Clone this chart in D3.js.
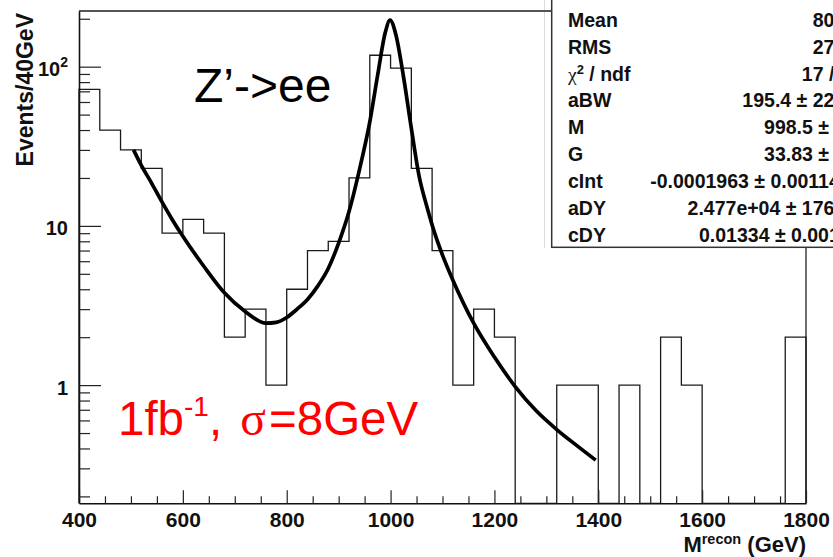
<!DOCTYPE html>
<html><head><meta charset="utf-8">
<script src="https://cdn.jsdelivr.net/npm/d3@7"></script>
<style>
body{margin:0;background:#fff}
svg{display:block}
text{font-family:"Liberation Sans",Arial,Helvetica,sans-serif}
</style>
</head><body>
<svg id="chart" width="833" height="557"></svg>
<script>
// ---------------- data ----------------
const binLow = [400,440,480,520,560,600,640,680,720,760,800,840,880,920,960,1000,1040,1080,1120,1160,
                1200,1240,1280,1320,1360,1400,1440,1480,1520,1560,1600,1640,1680,1720,1760];
const binWidth = 40;
const binCounts = [72,40,30,23,9,11,9,2,3,1,4,7,8,20,118,98,23,7,1,3,
                   2,0,0,1,1,0,1,0,2,1,0,0,0,0,2];

const fitMass  = [505,520,540,560,580,600,640,680,720,760,780,800,820,840,860,880,900,920,940,960,975,990,999,
                  1010,1025,1040,1055,1070,1085,1100,1120,1160,1200,1240,1280,1320,1360,1395];
const fitValue = [30,24,18.5,14.1,10.9,8.6,5.6,3.8,2.9,2.45,2.48,2.66,3.0,3.45,4.2,5.4,7.8,12.3,22.5,45,88,165,196,
                  160,86,41,20.5,13.2,9.0,6.55,4.56,2.45,1.50,0.979,0.692,0.526,0.414,0.338];

const xMajorTicks = [400,600,800,1000,1200,1400,1600,1800];
const xMinorTicks = [450,500,550,650,700,750,850,900,950,1050,1100,1150,1250,1300,1350,1450,1500,1550,1650,1700,1750];
const yMajorTicks = [1,10,100];
const yTickLabels = [["1",""],["10",""],["10","2"]];
const yMinorTicks = [0.2,0.3,0.4,0.5,0.6,0.7,0.8,0.9,2,3,4,5,6,7,8,9,20,30,40,50,60,70,80,90,200];

const statNames  = [["Mean",""],["RMS",""],["χ","2"," / ndf"],["aBW",""],["M",""],["G",""],["cInt",""],["aDY",""],["cDY",""]];
const statValues = ["805.2","272.4","17 / 19","195.4 ± 22.59","998.5 ± 3.2","33.83 ± 4.8",
                    "-0.0001963 ± 0.0011462","2.477e+04 ± 1768.5","0.01334 ± 0.00123"];

const xDomain = [400,1800];
const yDomain = [0.181,223.7];

// ---------------- layout ----------------
const L = 79, R = 806, T = 11, B = 503.3;
const svg = d3.select("#chart");
svg.append("rect").attr("width",833).attr("height",557).attr("fill","#fff");

const x = d3.scaleLinear().domain(xDomain).range([L,R]);
const y = d3.scaleLog().domain(yDomain).range([B,T]);
const yv = v => v > 0 ? y(v) : B;

// faint pad line
svg.append("line").attr("x1",544.5).attr("x2",544.5).attr("y1",0).attr("y2",248)
  .attr("stroke","#dcdcdc").attr("stroke-width",1);

// frame top/right
svg.append("line").attr("x1",L).attr("x2",R).attr("y1",T).attr("y2",T).attr("stroke","#555").attr("stroke-width",2);
svg.append("line").attr("x1",R).attr("x2",R).attr("y1",T).attr("y2",B).attr("stroke","#333").attr("stroke-width",1.4);

// histogram outline
const histPts = [];
histPts.push([x(binLow[0]), B]);
binLow.forEach((lo,i)=>{
  histPts.push([x(lo), yv(binCounts[i])]);
  histPts.push([x(lo+binWidth), yv(binCounts[i])]);
});
histPts.push([x(binLow[binLow.length-1]+binWidth), B]);
svg.append("path").attr("d", d3.line()(histPts))
  .attr("fill","none").attr("stroke","#1a1a1a").attr("stroke-width",1.3);

// fit curve
const fitLine = d3.line().x(d=>x(d[0])).y(d=>y(d[1])).curve(d3.curveMonotoneX);
svg.append("path").attr("d", fitLine(fitMass.map((m,i)=>[m,fitValue[i]])))
  .attr("fill","none").attr("stroke","#000").attr("stroke-width",3.7).attr("stroke-linejoin","round");

// x axis
const gx = svg.append("g").attr("transform",`translate(0,${B})`);
gx.call(d3.axisBottom(x).tickValues(xMajorTicks).tickSize(-13).tickSizeOuter(0).tickPadding(9).tickFormat(d3.format("d")));
gx.append("g").call(d3.axisBottom(x).tickValues(xMinorTicks).tickSize(-7).tickSizeOuter(0).tickFormat(""))
  .select(".domain").remove();
gx.selectAll("path.domain").attr("stroke","#111").attr("stroke-width",1.6);
gx.selectAll("line").attr("stroke","#222").attr("stroke-width",1.2);
gx.selectAll("text").attr("font-size",21).attr("font-weight","bold").attr("fill","#111");

// y axis
const gy = svg.append("g").attr("transform",`translate(${L},0)`);
gy.call(d3.axisLeft(y).tickValues(yMajorTicks).tickSize(-22).tickSizeOuter(0).tickPadding(11).tickFormat(""));
gy.append("g").call(d3.axisLeft(y).tickValues(yMinorTicks).tickSize(-11).tickSizeOuter(0).tickFormat(""))
  .select(".domain").remove();
gy.selectAll("path.domain").attr("stroke","#111").attr("stroke-width",1.6);
gy.selectAll("line").attr("stroke","#222").attr("stroke-width",1.2);
gy.selectAll(".tick text").each(function(d){
  const i = yMajorTicks.indexOf(d);
  if (i < 0) return;
  const t = d3.select(this).attr("font-size",20).attr("font-weight","bold").attr("fill","#111")
    .attr("dy",null).attr("y",9);
  t.append("tspan").text(yTickLabels[i][0]);
  if (yTickLabels[i][1]) t.append("tspan").attr("font-size",14).attr("dy",-9).text(yTickLabels[i][1]);
});

// axis titles
svg.append("text").attr("transform","translate(33,13) rotate(-90)").attr("text-anchor","end")
  .attr("font-size",23).attr("font-weight","bold").attr("fill","#111").text("Events/40GeV");
const xt = svg.append("text").attr("x",806).attr("y",552).attr("text-anchor","end")
  .attr("font-size",22).attr("font-weight","bold").attr("fill","#111");
xt.append("tspan").text("M");
xt.append("tspan").attr("font-size",14.5).attr("dy",-8).text("recon");
xt.append("tspan").attr("dy",8).text(" (GeV)");

// annotations
svg.append("text").attr("x",194).attr("y",101.7).attr("font-size",48).attr("fill","#000").text("Z’->ee");
const lum = svg.append("text").attr("x",118).attr("y",435).attr("font-size",47.5).attr("fill","#ff0000");
lum.append("tspan").text("1fb");
lum.append("tspan").attr("font-size",28).attr("dy",-19).text("-1");
lum.append("tspan").attr("dy",19).text(", ");
lum.append("tspan").attr("dx",5).attr("font-family","'Liberation Serif','DejaVu Serif',serif").text("σ");
lum.append("tspan").attr("dx",3).text("=8GeV");

// stats box
const sb = svg.append("g");
sb.append("rect").attr("x",551.7).attr("y",-20).attr("width",320).attr("height",267.3)
  .attr("fill","#fff").attr("stroke","#333").attr("stroke-width",1.5);
const rowY = i => 26.7 + i*26.9;
statNames.forEach((n,i)=>{
  const t = sb.append("text").attr("x",568).attr("y",rowY(i)).attr("font-size",19.5).attr("font-weight","bold").attr("fill","#111");
  if (n.length === 3) {
    t.append("tspan").attr("font-family","'Liberation Serif','DejaVu Serif',serif").attr("font-weight","normal").text(n[0]);
    t.append("tspan").attr("font-size",13).attr("dy",-7).text(n[1]);
    t.append("tspan").attr("dy",7).text(n[2]);
  } else t.text(n[0]);
  sb.append("text").attr("x",861.5).attr("y",rowY(i)).attr("text-anchor","end")
    .attr("font-size",19.5).attr("font-weight","bold").attr("fill","#111").text(statValues[i]);
});
</script>
</body></html>
